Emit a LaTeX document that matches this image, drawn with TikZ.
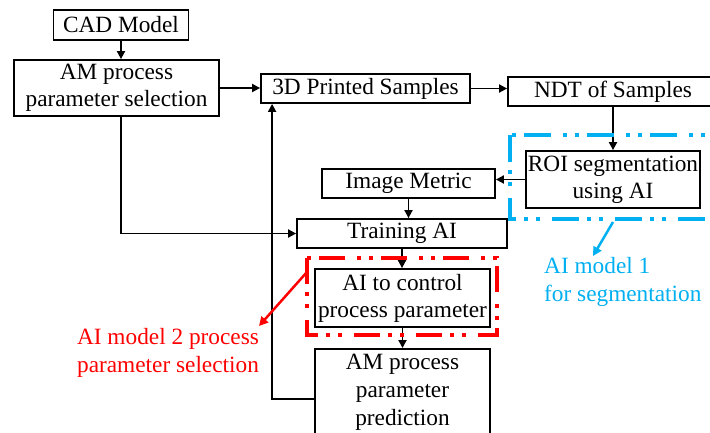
\documentclass[tikz,border=0pt]{standalone}
\usepackage{fontspec}
\setmainfont{Liberation Serif}
\newfontfamily\tnr{Liberation Serif}
\usetikzlibrary{arrows.meta,calc}
\definecolor{aiblue}{RGB}{0,176,240}
\definecolor{aired}{RGB}{255,0,0}
\begin{document}
\begin{tikzpicture}[x=1pt,y=-1pt,
  box/.style={draw,line width=1.8pt,rectangle,inner sep=0pt,align=center,
    font=\tnr\fontsize{23.3}{27}\selectfont},
  conn/.style={line width=1.8pt,-{Triangle[length=8pt,width=8pt]}},
  bluebox/.style={draw=aiblue,line width=3.5pt,dash pattern=on 27pt off 8pt on 4pt off 8pt on 4pt off 12pt},
  redbox/.style={draw=aired,line width=3.5pt,dash pattern=on 26pt off 8pt on 4pt off 8pt on 4pt off 12pt},
  lbl/.style={inner sep=0pt,font=\tnr\fontsize{23.3}{28}\selectfont}
]
\useasboundingbox (0,0) rectangle (710,432);
\begin{scope}
\clip (0,0) rectangle (710,432);
\node[box,minimum width=135pt,minimum height=30pt,text depth=1pt] (cad) at (121,25) {CAD Model};
\node[box,minimum width=205pt,minimum height=56pt] (sel) at (116.5,88) {AM process\\parameter selection};
\node[box,minimum width=209pt,minimum height=29pt] (print) at (365.5,88.5) {3D Printed Samples};
\node[box,minimum width=210pt,minimum height=29pt] (ndt) at (613,91.5) {NDT of Samples};
\node[box,minimum width=174pt,minimum height=57pt] (roi) at (613,179.5) {ROI segmentation\\using AI};
\node[box,minimum width=173pt,minimum height=29pt] (img) at (408.5,183.5) {Image Metric};
\node[box,minimum width=210pt,minimum height=29pt] (train) at (402,233.5) {Training AI};
\node[box,minimum width=175pt,minimum height=58pt] (ctrl) at (402.5,298) {AI to control\\process parameter};
\node[box,minimum width=175pt,minimum height=100pt,anchor=north] (pred) at (402.5,348) {};
\node[lbl,anchor=base,align=center] (predtext) at (402.5,425) {AM process\\parameter\\prediction};

\draw[conn] (cad.south) -- (cad.south |- sel.north);
\draw[conn] (sel.east) -- (sel.east -| print.west);
\draw[conn] (print.east) -- (print.east -| ndt.west);
\draw[conn] (ndt.south) -- (roi.north);
\draw[conn] (roi.west) -- (roi.west -| img.east);
\draw[conn] (img.south) -- (img.south |- train.north);
\draw[conn] ([xshift=4.5pt]sel.south) |- (train.west);
\draw[conn] (train.south) -- (train.south |- ctrl.north);
\draw[conn] (ctrl.south) -- (ctrl.south |- pred.north);
\coordinate (ret) at ($(print.south west)+(12,0)$);
\draw[conn] (pred.west) -| (ret);

\draw[bluebox] (510,135) rectangle (730,219);
\draw[redbox] (307,258) rectangle (497,335);

\coordinate (bs) at (613,222);
\coordinate (be) at (593,256);
\draw[aiblue,line width=2.5pt,-{Triangle[length=9pt,width=9pt]}] (bs) -- (be);
\coordinate (rs) at (307,272);
\coordinate (re) at (259,326);
\draw[aired,line width=2.5pt,-{Triangle[length=9pt,width=9pt]}] (rs) -- (re);

\node[lbl,text=aiblue,align=left,anchor=base west] (l1) at (544,301) {AI model 1\\for segmentation};
\node[lbl,text=aired,align=center,anchor=base] (l2) at (168,372) {AI model 2 process\\parameter selection};
\end{scope}
\end{tikzpicture}
\end{document}
